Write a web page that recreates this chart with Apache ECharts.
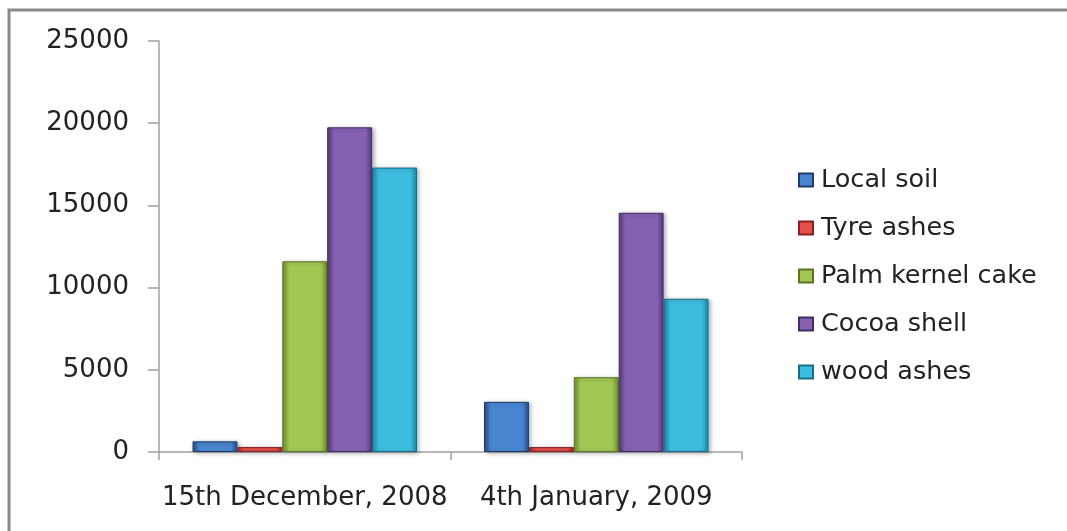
<!DOCTYPE html>
<html>
<head>
<meta charset="utf-8">
<script src="https://cdn.jsdelivr.net/npm/echarts@6/dist/echarts.min.js"></script>
<style>
html,body{margin:0;padding:0;background:#fff;}
#chart{width:1067px;height:531px;}
</style>
</head>
<body>
<div id="chart"></div>
<script>
var categories = ['15th December, 2008', '4th January, 2009'];
var seriesNames = ['Local soil', 'Tyre ashes', 'Palm kernel cake', 'Cocoa shell', 'wood ashes'];
var localSoil = [650, 3050];
var tyreAshes = [300, 300];
var palmKernelCake = [11600, 4550];
var cocoaShell = [19750, 14550];
var woodAshes = [17300, 9320];
var yTicks = [0, 5000, 10000, 15000, 20000, 25000];

var seriesValues = [localSoil, tyreAshes, palmKernelCake, cocoaShell, woodAshes];
var palette = [
  {edge:'#244f8a', mid:'#4a86d0', border:'#1b3c6a'},
  {edge:'#a82a27', mid:'#e5504c', border:'#8a1f1d'},
  {edge:'#6f8f2e', mid:'#a2c854', border:'#5a7524'},
  {edge:'#553a7c', mid:'#8661b2', border:'#432d63'},
  {edge:'#1d87a6', mid:'#3cbde0', border:'#176c85'}
];
var font = '"DejaVu Sans", sans-serif';

var chart = echarts.init(document.getElementById('chart'));
chart.setOption({
  animation: false,
  backgroundColor: '#fff',
  graphic: [{
    type: 'rect',
    shape: {x: 9, y: 10, width: 1200, height: 700},
    style: {fill: 'none', stroke: '#8a8a8a', lineWidth: 3},
    silent: true
  }],
  grid: {left: 159, right: 325, top: 41, bottom: 79},
  legend: {
    orient: 'vertical',
    left: 793,
    top: 162,
    itemWidth: 14,
    itemHeight: 13,
    itemGap: 22,
    icon: 'rect',
    data: seriesNames,
    textStyle: {fontFamily: font, fontSize: 25.5, color: '#222', lineHeight: 26, padding: [0,0,0,3]}
  },
  xAxis: {
    type: 'category',
    data: categories,
    axisLine: {lineStyle: {color: '#a0a0a0', width: 1.5}},
    axisTick: {show: true, length: 8, lineStyle: {color: '#a0a0a0', width: 1.5}},
    axisLabel: {fontFamily: font, fontSize: 26, color: '#222', margin: 33, interval: 0}
  },
  yAxis: {
    type: 'value',
    min: yTicks[0],
    max: yTicks[yTicks.length - 1],
    interval: yTicks[1] - yTicks[0],
    axisLine: {show: true, lineStyle: {color: '#a0a0a0', width: 1.5}},
    axisTick: {show: true, length: 11, lineStyle: {color: '#a0a0a0', width: 1.5}},
    splitLine: {show: false},
    axisLabel: {fontFamily: font, fontSize: 26, color: '#222', margin: 30,
      formatter: function (v) { return String(v); }}
  },
  series: seriesNames.map(function (name, i) {
    var p = palette[i];
    return {
      name: name,
      type: 'bar',
      data: seriesValues[i],
      barGap: '0%',
      barCategoryGap: '23%',
      itemStyle: {
        color: {
          type: 'linear', x: 0, y: 0, x2: 1, y2: 0,
          colorStops: [
            {offset: 0, color: p.edge},
            {offset: 0.15, color: p.mid},
            {offset: 0.85, color: p.mid},
            {offset: 1, color: p.edge}
          ]
        },
        borderColor: p.border,
        borderWidth: 1,
        shadowColor: 'rgba(0,0,0,0.3)',
        shadowBlur: 4,
        shadowOffsetX: 2,
        shadowOffsetY: 1
      }
    };
  })
});
</script>
</body>
</html>
